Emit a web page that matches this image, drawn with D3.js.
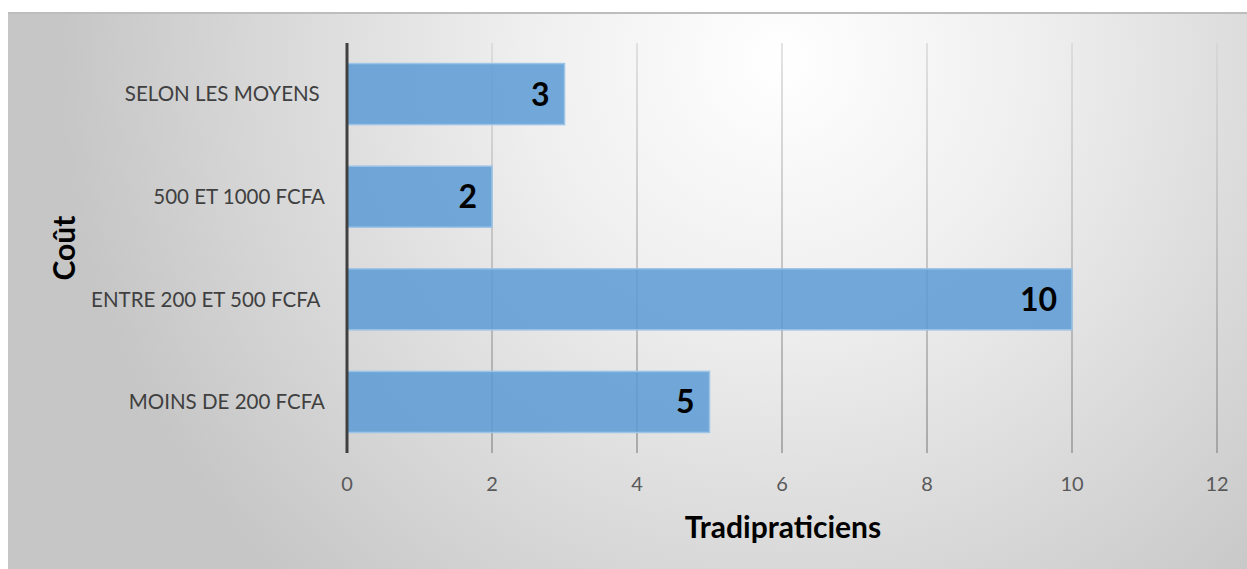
<!DOCTYPE html>
<html><head><meta charset="utf-8">
<script src="https://cdn.jsdelivr.net/npm/d3@7"></script>
<style>html,body{margin:0;padding:0;background:#fff;}svg{display:block;}</style>
</head><body>
<svg id="chart" width="1247" height="569"></svg>
<script>
const categories = ["SELON LES MOYENS ", "500 ET 1000 FCFA", "ENTRE 200 ET 500 FCFA ", "MOINS DE 200 FCFA"];
const values = [3, 2, 10, 5];
const xTicks = [0, 2, 4, 6, 8, 10, 12];
const xTitle = "Tradipraticiens";
const yTitle = "Coût";

const svg = d3.select("#chart");
const W = 1247, H = 569;
const font = "Lato, 'Open Sans', sans-serif";
const defs = svg.append("defs");
const rg = defs.append("radialGradient").attr("id", "bg")
  .attr("gradientUnits", "userSpaceOnUse")
  .attr("cx", 780).attr("cy", 60).attr("r", 720);
rg.append("stop").attr("offset", 0).attr("stop-color", "#ffffff");
rg.append("stop").attr("offset", 0.35).attr("stop-color", "#efefef");
rg.append("stop").attr("offset", 1).attr("stop-color", "#c6c6c6");
const lg = defs.append("linearGradient").attr("id", "grid")
  .attr("gradientUnits", "userSpaceOnUse")
  .attr("x1", 0).attr("y1", 43).attr("x2", 0).attr("y2", 453);
lg.append("stop").attr("offset", 0).attr("stop-color", "#d4d4d4");
lg.append("stop").attr("offset", 1).attr("stop-color", "#8c8c8c");

svg.append("rect").attr("x", 8).attr("y", 13).attr("width", W - 8).attr("height", H - 13).attr("fill", "url(#bg)");
svg.append("line").attr("x1", 8).attr("x2", W).attr("y1", 13).attr("y2", 13).attr("stroke", "#bdbdbd").attr("stroke-width", 2);

const x = d3.scaleLinear().domain([0, 12]).range([347, 1217]);
const y = d3.scaleBand().domain(categories).range([43, 453]).paddingInner(0.405).paddingOuter(0.2);

// gridlines
svg.append("g").selectAll("line").data(xTicks.slice(1)).join("line")
  .attr("x1", d => x(d)).attr("x2", d => x(d)).attr("y1", 43).attr("y2", 453)
  .attr("stroke", "url(#grid)").attr("stroke-width", 1.3);

// bars
svg.append("g").selectAll("rect").data(values).join("rect")
  .attr("x", x(0)).attr("y", (d, i) => y(categories[i]))
  .attr("width", d => x(d) - x(0)).attr("height", y.bandwidth())
  .attr("fill", "#5b9bd5").attr("fill-opacity", 0.85)
  .attr("stroke", "#9dc3e6").attr("stroke-width", 1.5);

// value labels
svg.append("g").selectAll("text").data(values).join("text")
  .attr("x", d => x(d) - 15).attr("y", (d, i) => y(categories[i]) + y.bandwidth() / 2)
  .attr("dy", "0.36em").attr("text-anchor", "end")
  .attr("font-family", font).attr("font-weight", "bold").attr("font-size", 32)
  .attr("fill", "#000").text(d => d);

// y axis line
svg.append("line").attr("x1", x(0)).attr("x2", x(0)).attr("y1", 43).attr("y2", 453)
  .attr("stroke", "#404040").attr("stroke-width", 3);

// category labels
svg.append("g").selectAll("text").data(categories).join("text")
  .attr("x", 325).attr("y", d => y(d) + y.bandwidth() / 2)
  .attr("dy", "0.36em").attr("text-anchor", "end")
  .attr("font-family", font).attr("font-size", 20.5).attr("fill", "#404040")
  .style("white-space", "pre").text(d => d);

// x tick labels
svg.append("g").selectAll("text").data(xTicks).join("text")
  .attr("x", d => x(d)).attr("y", 484).attr("dy", "0.36em").attr("text-anchor", "middle")
  .attr("font-family", font).attr("font-size", 20).attr("fill", "#595959").text(d => d);

// titles
svg.append("text").attr("x", 783).attr("y", 527).attr("dy", "0.36em").attr("text-anchor", "middle")
  .attr("font-family", font).attr("font-weight", "bold").attr("font-size", 30).attr("fill", "#000").text(xTitle);
svg.append("text").attr("transform", "translate(64,248) rotate(-90)").attr("dy", "0.36em").attr("text-anchor", "middle")
  .attr("font-family", font).attr("font-weight", "bold").attr("font-size", 30).attr("fill", "#000").text(yTitle);
</script>
</body></html>
